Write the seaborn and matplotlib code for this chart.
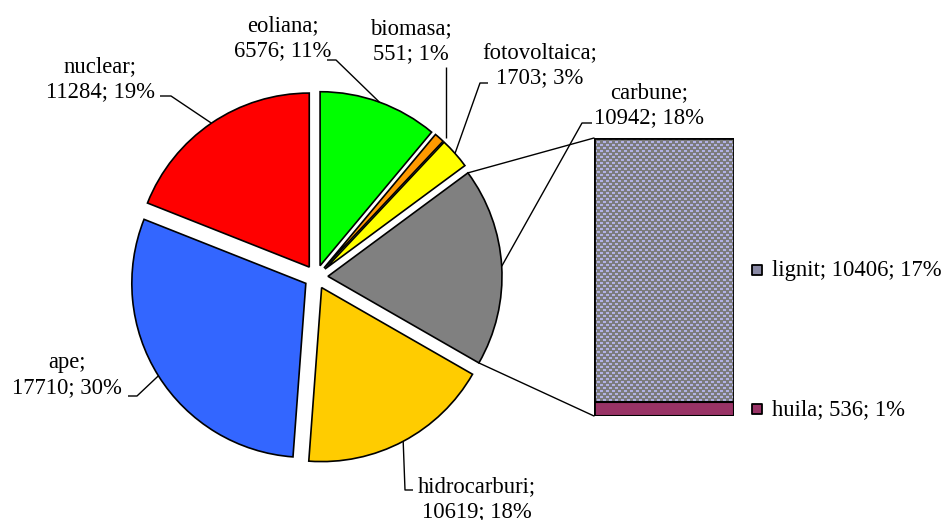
import matplotlib
matplotlib.use("Agg")
import matplotlib.pyplot as plt
import seaborn as sns
import numpy as np
import pandas as pd
from matplotlib.transforms import blended_transform_factory

# ---------------- data ----------------
pie_labels = ["eoliana", "biomasa", "fotovoltaica", "carbune", "hidrocarburi", "ape", "nuclear"]
pie_values = [6576, 551, 1703, 10942, 10619, 17710, 11284]
pie_pcts = [11, 1, 3, 18, 18, 30, 19]
pie_colors = ["#00FF00", "#FF9900", "#FFFF00", "#808080", "#FFCC00", "#3366FF", "#FF0000"]

bar_labels = ["lignit", "huila"]
bar_values = [10406, 536]
bar_pcts = [17, 1]
bar_colors = ["#808080", "#993366"]

# ---------------- style ----------------
sns.set_theme(style="white")
plt.rcParams['font.family'] = ['Liberation Serif', 'DejaVu Serif']
FS = 16.3

W, H = 950, 520
fig = plt.figure(figsize=(9.5, 5.2), dpi=100)
ax = fig.add_axes([0, 0, 1, 1])

def P(x, y):
    return (x, H - y)

R = 174
wedges, _ = ax.pie(pie_values, colors=pie_colors, startangle=90, counterclock=False,
                   radius=R, center=P(316, 277), explode=[12] * len(pie_values),
                   wedgeprops=dict(edgecolor='black', linewidth=1.2), frame=True)
ax.set_xlim(0, W)
ax.set_ylim(0, H)
ax.set_aspect('equal')
ax.axis('off')

def arc_point(w, ang=None):
    if ang is None:
        ang = (w.theta1 + w.theta2) / 2.0
    a = np.deg2rad(ang)
    cx, cy = w.center
    return (cx + w.r * np.cos(a), cy + w.r * np.sin(a))

# ---------------- labels with leaders ----------------
label_pos = {
    "eoliana": (283, 38),
    "biomasa": (411, 41),
    "fotovoltaica": (540, 65),
    "carbune": (649, 105),
    "hidrocarburi": (477, 499),
    "ape": (67, 375),
    "nuclear": (100, 79),
}
leaders = {
    "nuclear": [(160, 96), (171, 96)],
    "eoliana": [(327, 60), (336, 60)],
    "biomasa": [(446, 67)],
    "fotovoltaica": [(488, 83), (480, 83)],
    "carbune": [(592, 123), (582, 123)],
    "hidrocarburi": [(413, 490), (405, 490)],
    "ape": [(128, 396), (137, 396)],
}
for w, lab, val, pct in zip(wedges, pie_labels, pie_values, pie_pcts):
    tx, ty = P(*label_pos[lab])
    ax.text(tx, ty, f"{lab};\n{val}; {pct}%", ha='center', va='center',
            fontsize=FS, linespacing=1.22, multialignment='center', color='black')
    pts = [P(*p) for p in leaders[lab]]
    ex, ey = arc_point(w)
    if lab == "biomasa":
        ex = pts[0][0]
    xs = [p[0] for p in pts] + [ex]
    ys = [p[1] for p in pts] + [ey]
    ax.plot(xs, ys, color='black', lw=1.0, solid_capstyle='butt')

# ---------------- bar of pie ----------------
bx0, by_top, bx1, by_bot = 594, 138, 734, 416
ax2 = fig.add_axes([bx0 / W, (H - by_bot) / H, (bx1 - bx0) / W, (by_bot - by_top) / H])
total = sum(bar_values)
df = pd.DataFrame({"grp": ["carbune"], "top": [total], "huila": [bar_values[1]]})

sns.barplot(data=df, x="grp", y="top", color=bar_colors[0], saturation=1,
            width=1, linewidth=0, ax=ax2)
# checkered texture for lignit
ph, pw = by_bot - by_top, bx1 - bx0
tile = np.zeros((6, 6, 3))
gray = np.array([0x7C, 0x7C, 0x7C]) / 255
lav = np.array([0xB2, 0xB2, 0xE4]) / 255
tile[:, :] = gray
tile[0:2, 0:3] = lav
tile[3:5, 3:6] = lav
tex = np.tile(tile, (ph // 6 + 1, pw // 6 + 1, 1))[:ph, :pw]
im = ax2.imshow(tex, extent=(-0.5, 0.5, 0, total), aspect='auto',
                interpolation='nearest', zorder=2)
im.set_clip_path(ax2.patches[0])

sns.barplot(data=df, x="grp", y="huila", color=bar_colors[1], saturation=1,
            width=1, edgecolor='black', linewidth=1.5, ax=ax2, zorder=3)
ax2.bar([0], [total], width=1, fill=False, edgecolor='black', linewidth=2.0, zorder=4)
ax2.set_xlim(-0.5, 0.5)
ax2.set_ylim(0, total)
ax2.axis('off')

# bar labels with keys
tr = blended_transform_factory(ax2.transAxes, ax2.transData)
key_x = (757 - bx0) / pw
txt_x = (772 - bx0) / pw
bottoms = [bar_values[1], 0]
key_colors = ["#8a8aa6", bar_colors[1]]
for lab, val, pct, b, kc in zip(bar_labels, bar_values, bar_pcts, bottoms, key_colors):
    yc = b + val / 2
    ax2.scatter([key_x], [yc], marker='s', s=60, color=kc, edgecolor='black',
                linewidth=1.3, transform=tr, clip_on=False, zorder=5)
    ax2.text(txt_x, yc, f"{lab}; {val}; {pct}%", transform=tr, ha='left', va='center',
             fontsize=FS, color='black', clip_on=False)

# ---------------- series lines pie -> bar ----------------
gw = wedges[pie_labels.index("carbune")]
top_pt = arc_point(gw, gw.theta2)
bot_pt = arc_point(gw, gw.theta1)
inv = ax.transData.inverted()
bar_top = inv.transform(ax2.transData.transform((-0.5, total)))
bar_bot = inv.transform(ax2.transData.transform((-0.5, 0)))
ax.plot([top_pt[0], bar_top[0]], [top_pt[1], bar_top[1]], color='black', lw=1.0)
ax.plot([bot_pt[0], bar_bot[0]], [bot_pt[1], bar_bot[1]], color='black', lw=1.0)

fig.savefig("out.png", dpi=100)
